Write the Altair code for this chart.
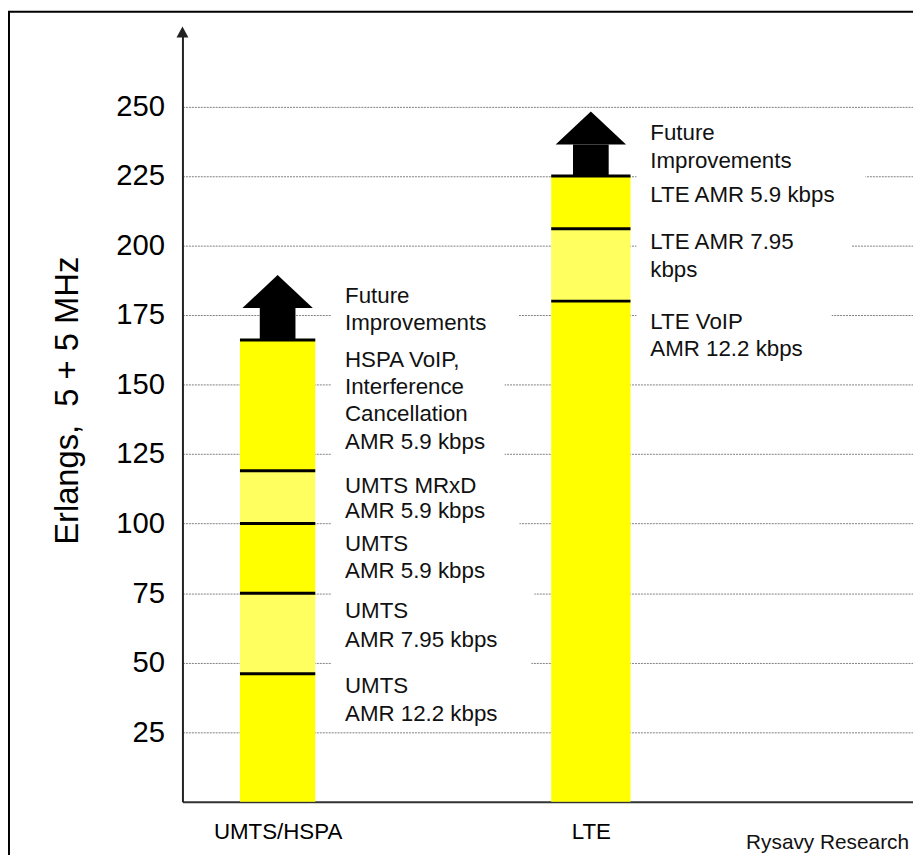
import altair as alt
import pandas as pd

# ---------------- data ----------------
categories = ["UMTS/HSPA", "LTE"]
cat_pos = [1, 2]

seg_bar = ["UMTS/HSPA"] * 5 + ["LTE"] * 3
seg_lo = [0, 46, 75, 100, 119, 0, 180, 206]
seg_hi = [46, 75, 100, 119, 166, 180, 206, 225]
seg_kind = ["solid", "stipple", "solid", "stipple", "solid", "solid", "stipple", "solid"]

arrow_bar = ["UMTS/HSPA", "LTE"]
arrow_base = [166, 225]
arrow_head = [177.5, 236.3]

label_bar = (["UMTS/HSPA"] * 14) + (["LTE"] * 7)
label_value = [181.8, 172.2, 158.9, 149.1, 139.3, 129.5, 113.4, 104.5, 92.7, 83.1,
               68.4, 58.2, 41.7, 31.5,
               240.3, 230.5, 218.2, 201.4, 191.3, 172.6, 162.8]
label_text = ["Future", "Improvements", "HSPA VoIP,", "Interference", "Cancellation",
              "AMR 5.9 kbps", "UMTS MRxD", "AMR 5.9 kbps", "UMTS", "AMR 5.9 kbps",
              "UMTS", "AMR 7.95 kbps", "UMTS", "AMR 12.2 kbps",
              "Future", "Improvements", "LTE AMR 5.9 kbps", "LTE AMR 7.95", "kbps",
              "LTE VoIP", "AMR 12.2 kbps"]

# white text boxes behind the labels (value range covered, box width in px)
box_bar = ["UMTS/HSPA"] * 6 + ["LTE"] * 4
box_top = [187, 165.7, 119.4, 98, 73, 48, 245.9, 228, 210, 185]
box_bottom = [165.7, 123, 98, 73, 48, 26.7, 228, 210, 185, 157]
box_width = [189, 175, 190, 205, 202, 188, 190, 231, 217, 197]

y_ticks = [25, 50, 75, 100, 125, 150, 175, 200, 225, 250]
y_title = "Erlangs,\u00a0 5 + 5 MHz"
credit = "Rysavy Research"

# ---------------- layout / style ----------------
W, H = 737, 780
PX = 316.0                       # pixels per category step
x0 = 1 - 96 / PX
xs = alt.Scale(domain=[x0, x0 + W / PX], nice=False, zero=False)
ys = alt.Scale(domain=[0, 278], nice=False, zero=False)
bar_px = {"UMTS/HSPA": 76, "LTE": 80}
text_off = {"UMTS/HSPA": 68, "LTE": 60}
FONT = "Liberation Sans"
YELLOW = "#FFFF00"
STIPPLE = "#FFFF60"

pos_of = dict(zip(categories, cat_pos))

seg = pd.DataFrame({"bar": seg_bar, "lo": seg_lo, "hi": seg_hi, "kind": seg_kind})
seg["pos"] = seg.bar.map(pos_of)
seg["xa"] = seg.pos - seg.bar.map(bar_px) / 2 / PX
seg["xb"] = seg.pos + seg.bar.map(bar_px) / 2 / PX

arr = pd.DataFrame({"bar": arrow_bar, "base": arrow_base, "head": arrow_head})
arr["pos"] = arr.bar.map(pos_of)
arr["xa"] = arr.pos - 18 / PX
arr["xb"] = arr.pos + 18 / PX

lab = pd.DataFrame({"bar": label_bar, "v": label_value, "t": label_text})
lab["tx"] = lab.bar.map(pos_of) + lab.bar.map(text_off) / PX

box = pd.DataFrame({"bar": box_bar, "top": box_top, "bottom": box_bottom, "w": box_width})
box["xa"] = box.bar.map(pos_of) + (box.bar.map(text_off) - 14) / PX
box["xb"] = box.xa + box.w / PX

label_expr = "[''," + ",".join("'" + c + "'" for c in categories) + "][datum.value]"

x_axis = alt.Axis(values=cat_pos, labelExpr=label_expr, title=None, ticks=False,
                  grid=False, labelFontSize=22.5, labelFont=FONT, labelColor="black",
                  labelPadding=19, domainColor="#333", domainWidth=2,
                  labelFlush=False)
y_axis = alt.Axis(values=y_ticks, title=y_title, titleFont=FONT, titleFontSize=33,
                  titleFontWeight="normal", titleColor="black", titleAngle=270,
                  titleX=-116, titleY=375, titleAlign="center", titleBaseline="middle",
                  labelFont=FONT, labelFontSize=29.5, labelColor="black", labelPadding=18,
                  ticks=False, domainColor="#222", domainWidth=2,
                  grid=True, gridColor="#808080", gridDash=[2, 1], gridWidth=1)


def X(field):
    return alt.X(field, scale=xs, axis=x_axis)


def Y(field):
    return alt.Y(field, scale=ys, axis=y_axis)


boxes = alt.Chart(box).mark_rect(color="white").encode(
    x=X("xa:Q"), x2="xb:Q", y=Y("top:Q"), y2="bottom:Q",
)

bars = alt.Chart(seg).mark_rect().encode(
    x=X("xa:Q"), x2="xb:Q", y=Y("lo:Q"), y2="hi:Q",
    color=alt.Color("kind:N", scale=alt.Scale(domain=["solid", "stipple"],
                                              range=[YELLOW, STIPPLE]), legend=None),
)

seps = alt.Chart(seg).mark_rule(color="black", strokeWidth=3).encode(
    x=X("xa:Q"), x2="xb:Q", y=Y("hi:Q"),
)

shaft = alt.Chart(arr).mark_rect(color="black").encode(
    x=X("xa:Q"), x2="xb:Q", y=Y("base:Q"), y2="head:Q",
)

head = alt.Chart(arr).mark_point(shape="M-1,0L1,0L0,-0.94Z", size=71 * 71, filled=True,
                                 color="black", opacity=1, strokeWidth=0).encode(
    x=X("pos:Q"), y=Y("head:Q"),
)

texts = alt.Chart(lab).mark_text(align="left", baseline="middle", font=FONT,
                                 fontSize=22.5, color="#111").encode(
    x=X("tx:Q"), y=Y("v:Q"), text="t:N",
)

axis_arrow = alt.Chart(pd.DataFrame({"a": [0]})).mark_point(
    shape="M-1,1.5L0,-0.33L1,1.5Z", size=144, filled=True, color="#222",
    opacity=1, strokeWidth=0).encode(
    x=X("xv:Q"), y=Y("yv:Q"),
).transform_calculate(xv=str(x0), yv="278")

frame = alt.Chart(pd.DataFrame({"a": [0]})).mark_rect(
    fillOpacity=0, stroke="black", strokeWidth=2).encode(
    x=alt.value(-175), x2=alt.value(W + 40), y=alt.value(-17), y2=alt.value(H + 120),
)

credit_txt = alt.Chart(pd.DataFrame({"t": [credit]})).mark_text(
    align="right", baseline="middle", font=FONT, fontSize=21, color="#111").encode(
    x=alt.value(733), y=alt.value(822), text="t:N",
)

chart = alt.layer(boxes, bars, seps, shaft, head, texts, axis_arrow, frame, credit_txt).properties(
    width=W, height=H,
    autosize=alt.AutoSizeParams(type="none"),
    padding={"left": 176, "top": 17, "right": 0, "bottom": 50},
    background="white",
).configure_view(stroke=None)

chart.save("out.html", embed_options={"renderer": "svg", "actions": False})
